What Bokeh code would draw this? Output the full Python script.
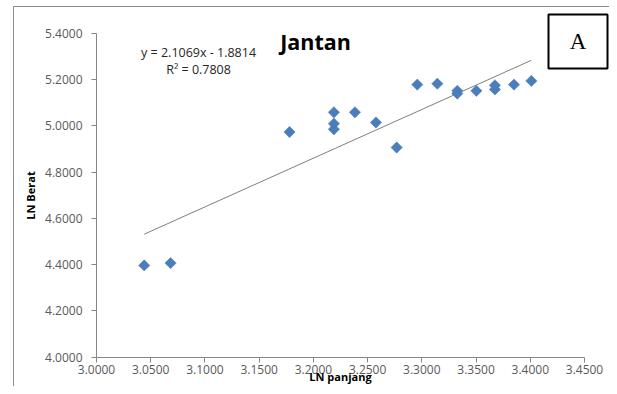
from bokeh.plotting import figure
from bokeh.models import (Label, BoxAnnotation, FixedTicker, NumeralTickFormatter,
                          Range1d, ColumnDataSource)
from bokeh.embed import file_html
from bokeh.resources import INLINE
import numpy as np

# ---- data ----
ln_panjang = [3.0440, 3.0683, 3.1780, 3.2189, 3.2189, 3.2189, 3.2383, 3.2577, 3.2768,
              3.2958, 3.3143, 3.3327, 3.3327, 3.3503, 3.3674, 3.3674, 3.3850, 3.4010]
ln_berat = [4.397, 4.407, 4.974, 5.059, 5.010, 4.986, 5.059, 5.015, 4.907,
            5.179, 5.183, 5.152, 5.140, 5.152, 5.176, 5.158, 5.179, 5.195]
slope = 2.1069
intercept = -1.8814
r2 = 0.7808
x_ticks = [3.0, 3.05, 3.1, 3.15, 3.2, 3.25, 3.3, 3.35, 3.4, 3.45]
y_ticks = [4.0, 4.2, 4.4, 4.6, 4.8, 5.0, 5.2, 5.4]
title_text = "Jantan"
x_label = "LN panjang"
y_label = "LN Berat"
panel_tag = "A"

# ---- layout (pixel geometry of the plot area) ----
W, H = 609, 386
X0, X1 = 3.0, 3.45          # axis extent
Y0, Y1 = 4.0, 5.4
PX0, PX1 = 96.0, 584.0      # pixel position of X0, X1
PY0, PY1 = 356.7, 33.0      # pixel position of Y0, Y1
kx = (X1 - X0) / (PX1 - PX0)
ky = (Y1 - Y0) / (PY0 - PY1)
x_range = Range1d(X0 - PX0 * kx, X0 + (W - PX0) * kx)
y_range = Range1d(Y0 - (H - PY0) * ky, Y1 + PY1 * ky)

FONT = "Open Sans"
BLUE = "#4A7EBB"
TICK_COL = "#595959"
AXIS_COL = "#868686"

p = figure(width=W, height=H, output_backend="svg", toolbar_location=None,
           x_range=x_range, y_range=y_range, min_border=0)
p.outline_line_color = None
p.xgrid.visible = False
p.ygrid.visible = False
p.background_fill_color = "white"
p.border_fill_color = "white"

# axes, positioned at the data origin and bounded to the axis extent
for ax in (p.xaxis[0], p.yaxis[0]):
    ax.axis_line_color = AXIS_COL
    ax.major_tick_line_color = AXIS_COL
    ax.major_tick_out = 5
    ax.major_tick_in = 0
    ax.minor_tick_line_color = None
    ax.major_label_text_font = FONT
    ax.major_label_text_font_size = "12px"
    ax.major_label_text_color = TICK_COL
    ax.axis_label_text_font = FONT
    ax.axis_label_text_font_style = "bold"
    ax.axis_label_text_font_size = "11px"
    ax.axis_label_text_color = "#000000"
    ax.formatter = NumeralTickFormatter(format="0.0000")

p.xaxis.ticker = FixedTicker(ticks=x_ticks)
p.yaxis.ticker = FixedTicker(ticks=y_ticks)
p.xaxis.bounds = (X0, X1)
p.yaxis.bounds = (Y0, Y1)
p.xaxis.fixed_location = Y0
p.yaxis.fixed_location = X0
p.xaxis.axis_label = x_label
p.yaxis.axis_label = y_label
p.xaxis.major_label_standoff = 3
p.yaxis.major_label_standoff = 9
p.xaxis.axis_label_standoff = -9
p.yaxis.axis_label_standoff = 4

# trendline from the equation shown in the chart
xs_fit = np.array([min(ln_panjang), max(ln_panjang)])
ys_fit = slope * xs_fit + intercept
p.line(xs_fit, ys_fit, line_color="#7F7F7F", line_width=1)

# points (Excel-style diamonds)
src = ColumnDataSource(dict(x=ln_panjang, y=ln_berat))
p.scatter("x", "y", source=src, marker="square", size=8, angle=np.pi / 4,
          fill_color=BLUE, line_color=BLUE, line_width=0.5)

# equation labels
eq1 = f"y = {slope:.4f}x - {abs(intercept):.4f}"
eq2 = f"R² = {r2:.4f}"
p.add_layout(Label(x=3.0941, y=5.3178, text=eq1, text_align="center",
                   text_baseline="middle", text_font=FONT,
                   text_font_size="12.5px", text_color="#262626"))
p.add_layout(Label(x=3.0941, y=5.2443, text=eq2, text_align="center",
                   text_baseline="middle", text_font=FONT,
                   text_font_size="12.5px", text_color="#262626"))

# chart title
p.add_layout(Label(x=3.2020, y=5.3667, text=title_text, text_align="center",
                   text_baseline="alphabetic", text_font=FONT,
                   text_font_style="bold", text_font_size="21.5px",
                   text_color="#000000"))

# outer chart-area frame
p.add_layout(BoxAnnotation(left=13, right=1000, top=6, bottom=1000,
                           left_units="canvas", right_units="canvas",
                           top_units="canvas", bottom_units="canvas",
                           fill_alpha=0, line_color="#8C8C8C", line_alpha=1,
                           line_width=1, level="underlay"))
# panel tag box
p.add_layout(BoxAnnotation(left=548, right=607, top=14, bottom=68,
                           left_units="canvas", right_units="canvas",
                           top_units="canvas", bottom_units="canvas",
                           fill_color="white", fill_alpha=1,
                           line_color="black", line_alpha=1,
                           line_width=2, level="overlay"))
p.add_layout(Label(x=577.5, y=41, x_units="canvas", y_units="canvas",
                   text=panel_tag, text_align="center", text_baseline="middle",
                   text_font="Liberation Serif", text_font_size="23px",
                   text_color="black", level="overlay"))

open("out.html", "w").write(file_html(p, INLINE))
